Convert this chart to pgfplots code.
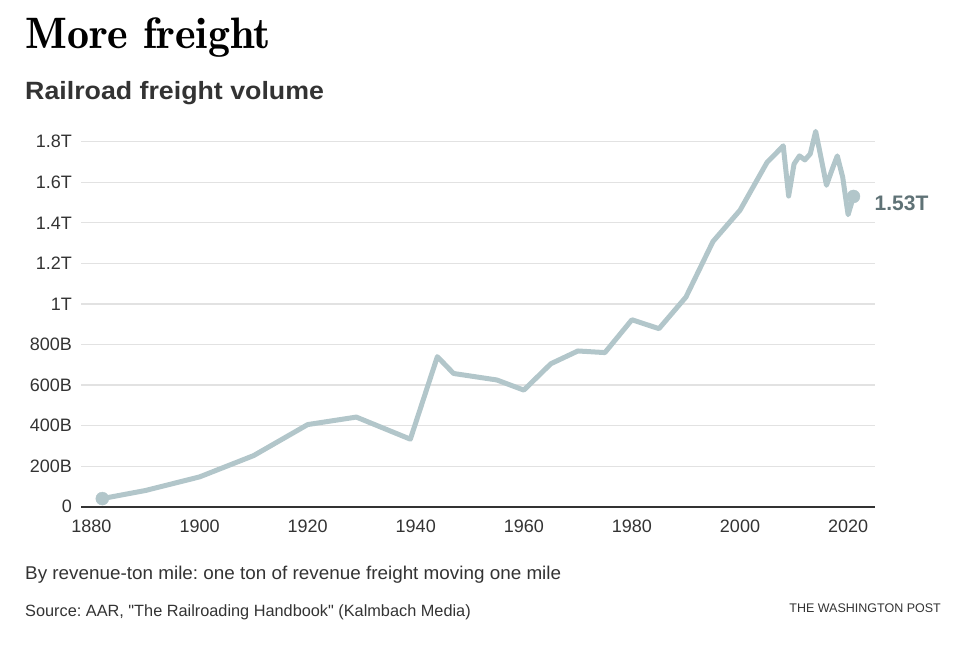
\documentclass[border=0pt]{standalone}
\usepackage{fontspec}
\setsansfont{Liberation Sans}[Ligatures=TeXOff]
\newfontfamily\titlefont{lmromandemi10-regular.otf}
\usepackage{graphicx}
\usepackage{pgfplots}
\pgfplotsset{compat=1.18}
\definecolor{lineblue}{HTML}{B2C6CA}
\definecolor{labelgrey}{HTML}{5F7276}
\definecolor{txt}{HTML}{333333}
\definecolor{gridc}{HTML}{E2E2E2}
\frenchspacing
\begin{document}
\begin{tikzpicture}[x=1pt,y=1pt]
\path[use as bounding box] (0pt,0pt) rectangle (960pt,-650pt);
\node[anchor=base west, inner sep=0, text=black] at (25pt,-49pt) {\titlefont\fontsize{44}{44}\selectfont More freight};
\node[anchor=base west, inner sep=0, text=txt] at (25pt,-100pt) {\scalebox{1.07}[1]{\sffamily\bfseries\fontsize{25}{25}\selectfont Railroad freight volume}};
\begin{axis}[
  at={(81pt,-506.7pt)}, anchor=south west,
  scale only axis, width=794pt, height=365pt,
  xmin=1878.06, xmax=2024.98, ymin=0, ymax=1.8,
  clip=false,
  axis lines=left,
  y axis line style={draw=none},
  x axis line style={draw=txt, line width=1.6pt, -},
  major tick length=0pt,
  ymajorgrids,
  major grid style={draw=gridc, line width=1.2pt},
  ytick={0,0.2,0.4,0.6,0.8,1.0,1.2,1.4,1.6,1.8},
  yticklabels={0,200B,400B,600B,800B,1T,1.2T,1.4T,1.6T,1.8T},
  xtick={1880,1900,1920,1940,1960,1980,2000,2020},
  xticklabels={1880,1900,1920,1940,1960,1980,2000,2020},
  yticklabel style={font=\sffamily\fontsize{18}{18}\selectfont, text=txt, anchor=east, inner sep=0pt, xshift=-9pt},
  xticklabel style={font=\sffamily\fontsize{18}{18}\selectfont, text=txt, anchor=north, inner sep=0pt, yshift=-13pt},
]
\addplot[lineblue, line width=5pt, line join=round, line cap=round] coordinates {
(1882,0.040) (1890,0.080) (1900,0.147) (1910,0.252) (1920,0.405) (1929,0.442)
(1939,0.333) (1944,0.740) (1947,0.657) (1955,0.625) (1960,0.575) (1965,0.705)
(1970,0.768) (1975,0.760) (1980,0.922) (1985,0.878) (1990,1.034) (1995,1.308)
(2000,1.462) (2005,1.698) (2006,1.725) (2007,1.752) (2008,1.780) (2009,1.532)
(2010,1.690) (2011,1.730) (2012,1.710) (2013,1.740) (2014,1.851) (2015,1.720)
(2016,1.585) (2017,1.660) (2018,1.730) (2019,1.625) (2020,1.440) (2021,1.530)
};
\addplot[only marks, mark=*, mark size=6.5pt, color=lineblue] coordinates {(1882,0.040) (2021,1.530)};
\node[anchor=west, inner sep=0pt, text=labelgrey, font=\sffamily\bfseries\fontsize{21}{21}\selectfont, xshift=21pt, yshift=-7pt] at (axis cs:2021,1.53) {1.53T};
\end{axis}
\node[anchor=base west, inner sep=0, text=txt] at (25pt,-579pt) {\scalebox{1.02}[1]{\sffamily\fontsize{18.5}{18.5}\selectfont By revenue-ton mile: one ton of revenue freight moving one mile}};
\node[anchor=base west, inner sep=0, text=txt] at (25pt,-616pt) {\sffamily\fontsize{16.3}{16.3}\selectfont Source: AAR, "The Railroading Handbook" (Kalmbach Media)};
\node[anchor=base east, inner sep=0, text=txt] at (941pt,-612pt) {\sffamily\fontsize{12.5}{12.5}\selectfont THE WASHINGTON POST};
\end{tikzpicture}
\end{document}
